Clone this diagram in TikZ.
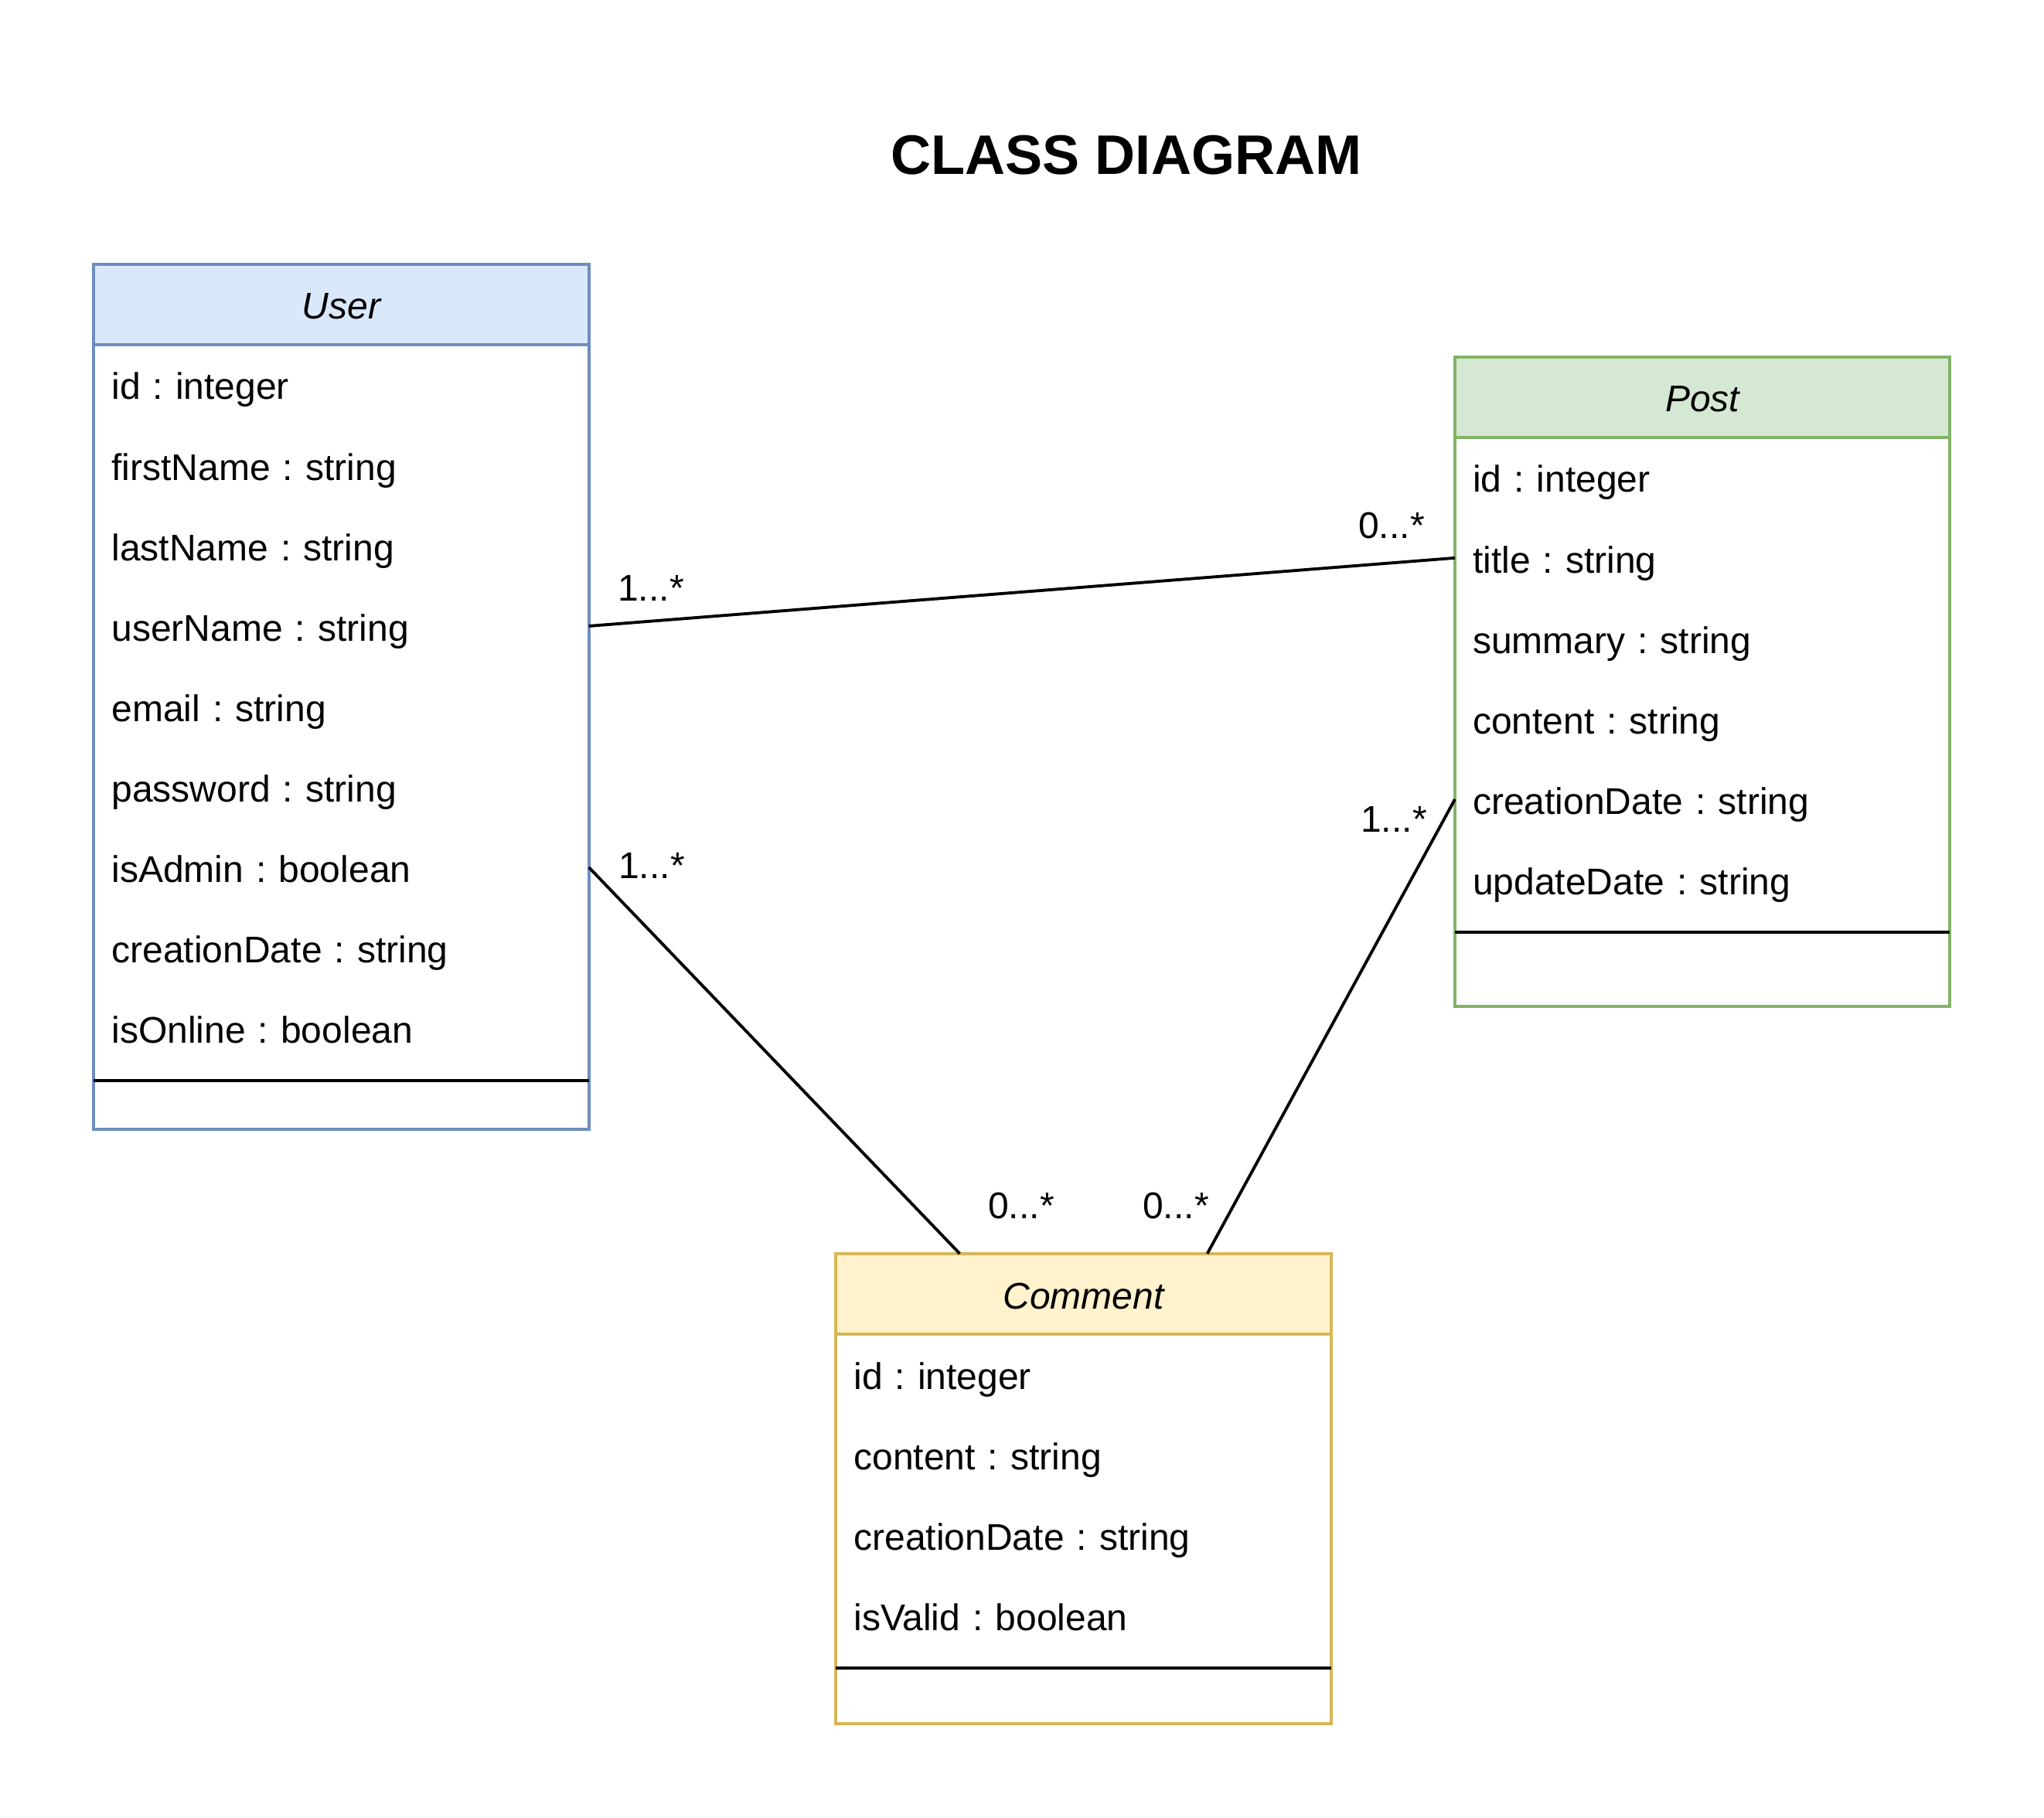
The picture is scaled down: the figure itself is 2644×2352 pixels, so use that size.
\documentclass[tikz,border=0pt]{standalone}
\usepackage{fontspec}
\setmainfont{Liberation Sans}
\usetikzlibrary{positioning,calc}
\definecolor{userfill}{HTML}{DAE8FC}
\definecolor{userline}{HTML}{6C8EBF}
\definecolor{postfill}{HTML}{D5E8D4}
\definecolor{postline}{HTML}{82B366}
\definecolor{commfill}{HTML}{FFF2CC}
\definecolor{commline}{HTML}{D6B656}
\newcommand{\umlfont}{\fontsize{13.66}{16}\selectfont\frenchspacing}
\tikzstyle{head}=[rectangle, minimum width=6.4cm, minimum height=1.04cm, inner sep=0pt, outer sep=0pt, line width=1.1pt, anchor=north west, text height=12.3pt, text depth=1.4pt, font=\umlfont\itshape]
\tikzstyle{attr}=[rectangle, minimum width=6.4cm, minimum height=1.04cm, text width=5.94cm, inner xsep=0.23cm, inner ysep=0pt, outer sep=0pt, align=left, text height=12.3pt, text depth=1.4pt, font=\umlfont]
\tikzstyle{frame}=[line width=1.1pt]
\tikzstyle{link}=[line width=1.1pt, black]
\tikzstyle{mult}=[inner sep=0pt, text height=12.3pt, text depth=1.4pt, font=\umlfont]
\tikzstyle{title}=[inner sep=0pt, font=\fontsize{20.5}{24}\selectfont\bfseries]

\begin{document}
\begin{tikzpicture}[x=0.01cm, y=-0.01cm]
	\useasboundingbox (0,0) rectangle (2644,2352);

	\node[title] (title) at (1457,201) {CLASS DIAGRAM};

	% User
	\node[head, fill=userfill, draw=userline] (user) at (121.4,341.7) {User};
	\node[attr, below=0pt of user] (u1) {id : integer};
	\node[attr, below=0pt of u1] (u2) {firstName : string};
	\node[attr, below=0pt of u2] (u3) {lastName : string};
	\node[attr, below=0pt of u3] (u4) {userName : string};
	\node[attr, below=0pt of u4] (u5) {email : string};
	\node[attr, below=0pt of u5] (u6) {password : string};
	\node[attr, below=0pt of u6] (u7) {isAdmin : boolean};
	\node[attr, below=0pt of u7] (u8) {creationDate : string};
	\node[attr, below=0pt of u8] (u9) {isOnline : boolean};
	\draw[frame, userline] (user.south west) rectangle ([yshift=-0.79cm]u9.south east);
	\draw[frame] ([yshift=-0.16cm]u9.south west) -- ([yshift=-0.16cm]u9.south east);

	% Post
	\node[head, fill=postfill, draw=postline] (post) at (1882,461.7) {Post};
	\node[attr, below=0pt of post] (p1) {id : integer};
	\node[attr, below=0pt of p1] (p2) {title : string};
	\node[attr, below=0pt of p2] (p3) {summary : string};
	\node[attr, below=0pt of p3] (p4) {content : string};
	\node[attr, below=0pt of p4] (p5) {creationDate : string};
	\node[attr, below=0pt of p5] (p6) {updateDate : string};
	\draw[frame, postline] (post.south west) rectangle ([yshift=-1.12cm]p6.south east);
	\draw[frame] ([yshift=-0.16cm]p6.south west) -- ([yshift=-0.16cm]p6.south east);

	% Comment
	\node[head, fill=commfill, draw=commline] (comment) at (1081.4,1621.9) {Comment};
	\node[attr, below=0pt of comment] (c1) {id : integer};
	\node[attr, below=0pt of c1] (c2) {content : string};
	\node[attr, below=0pt of c2] (c3) {creationDate : string};
	\node[attr, below=0pt of c3] (c4) {isValid : boolean};
	\draw[frame, commline] (comment.south west) rectangle ([yshift=-0.88cm]c4.south east);
	\draw[frame] ([yshift=-0.16cm]c4.south west) -- ([yshift=-0.16cm]c4.south east);

	% associations
	\draw[link] (u4.east) -- (p2.west);
	\draw[link] (u7.east) -- ([xshift=-1.6cm]comment.north);
	\draw[link] (p5.west) -- ([xshift=1.6cm]comment.north);

	\node[mult] (m1) at (842,758) {1...*};
	\node[mult] (m2) at (1800,677) {0...*};
	\node[mult] (m3) at (843,1117) {1...*};
	\node[mult] (m4) at (1803,1057) {1...*};
	\node[mult] (m5) at (1321,1557) {0...*};
	\node[mult] (m6) at (1521,1557) {0...*};
\end{tikzpicture}
\end{document}
